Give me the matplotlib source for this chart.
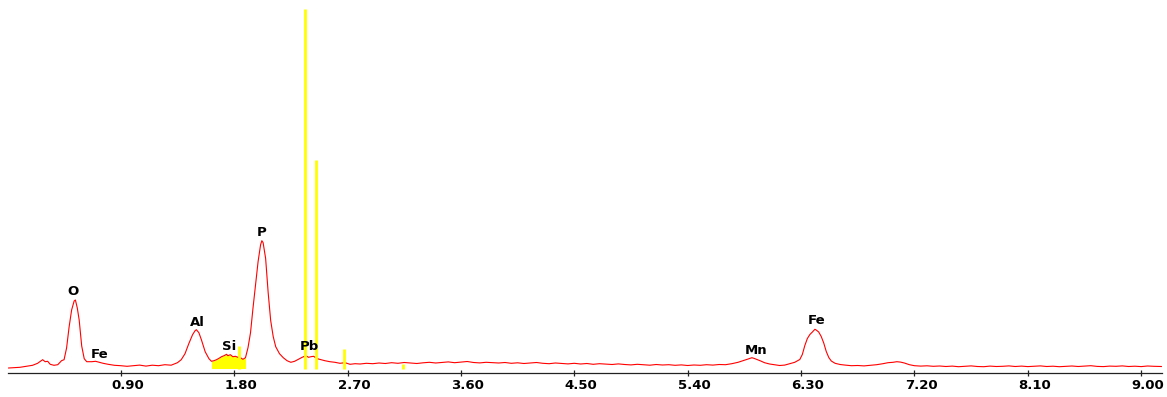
import matplotlib
matplotlib.use("Agg")
import matplotlib.pyplot as plt
import matplotlib.transforms as mtrans
import numpy as np

# EDS spectrum (energy in keV, counts in arbitrary units)
energy_kev = [0.01, 0.05, 0.10, 0.15, 0.20, 0.24, 0.27, 0.28, 0.30, 0.32, 0.34, 0.37, 0.40, 0.43,
              0.45, 0.47, 0.49, 0.51, 0.53, 0.54, 0.555, 0.57, 0.59, 0.61, 0.63, 0.67, 0.70, 0.73,
              0.76, 0.80, 0.85, 0.90, 0.95, 1.00, 1.05, 1.10, 1.15, 1.20, 1.25, 1.30, 1.35, 1.38,
              1.41, 1.44, 1.47, 1.49, 1.50, 1.52, 1.54, 1.57, 1.60, 1.62, 1.64, 1.66, 1.68, 1.70,
              1.72, 1.74, 1.75, 1.77, 1.79, 1.81, 1.83, 1.85, 1.87, 1.89, 1.91, 1.93, 1.95, 1.97,
              1.99, 2.01, 2.02, 2.03, 2.05, 2.07, 2.09, 2.11, 2.13, 2.16, 2.19, 2.22, 2.25, 2.28,
              2.31, 2.34, 2.37, 2.39, 2.41, 2.43, 2.46, 2.49, 2.52, 2.56, 2.60, 2.64, 2.68, 2.72,
              2.76, 2.80, 2.85, 2.90, 2.95, 3.00, 3.05, 3.10, 3.15, 3.20, 3.25, 3.30, 3.35, 3.40,
              3.45, 3.50, 3.55, 3.60, 3.65, 3.70, 3.75, 3.80, 3.85, 3.90, 3.95, 4.00, 4.05, 4.10,
              4.15, 4.20, 4.25, 4.30, 4.35, 4.40, 4.45, 4.50, 4.55, 4.60, 4.65, 4.70, 4.75, 4.80,
              4.85, 4.90, 4.95, 5.00, 5.05, 5.10, 5.15, 5.20, 5.25, 5.30, 5.35, 5.40, 5.45, 5.50,
              5.55, 5.60, 5.65, 5.70, 5.75, 5.80, 5.85, 5.88, 5.91, 5.93, 5.95, 5.98, 6.01, 6.05,
              6.09, 6.13, 6.17, 6.21, 6.25, 6.29, 6.31, 6.33, 6.35, 6.37, 6.39, 6.41, 6.42, 6.44,
              6.46, 6.48, 6.50, 6.52, 6.54, 6.57, 6.61, 6.65, 6.70, 6.75, 6.80, 6.85, 6.90, 6.95,
              6.99, 7.03, 7.06, 7.09, 7.12, 7.16, 7.20, 7.25, 7.30, 7.35, 7.40, 7.45, 7.50, 7.55,
              7.60, 7.65, 7.70, 7.75, 7.80, 7.85, 7.90, 7.95, 8.00, 8.05, 8.10, 8.15, 8.20, 8.25,
              8.30, 8.35, 8.40, 8.45, 8.50, 8.55, 8.60, 8.65, 8.70, 8.75, 8.80, 8.85, 8.90, 8.95,
              9.00, 9.05, 9.10, 9.16]
counts = [5, 8, 12, 22, 32, 52, 78, 88, 68, 72, 42, 32, 38, 78,
          88, 205, 415, 585, 675, 685, 605, 485, 225, 98, 68, 68, 72, 62,
          52, 42, 32, 28, 22, 28, 34, 24, 33, 28, 38, 33, 58, 88,
          148, 248, 338, 378, 388, 358, 288, 168, 98, 72, 78, 88, 102, 118,
          128, 142, 128, 138, 118, 122, 112, 108, 92, 108, 208, 358, 608, 838,
          1068, 1238, 1278, 1258, 1100, 760, 480, 320, 218, 148, 108, 78, 62, 72,
          92, 112, 128, 112, 118, 122, 98, 88, 78, 68, 62, 52, 58, 42,
          48, 45, 52, 48, 55, 50, 58, 52, 60, 55, 50, 57, 62, 55,
          60, 66, 58, 64, 70, 60, 56, 62, 58, 55, 60, 52, 57, 50,
          55, 60, 52, 48, 55, 50, 46, 52, 45, 50, 42, 48, 44, 40,
          46, 40, 36, 42, 38, 33, 40, 35, 38, 32, 36, 30, 35, 32,
          38, 34, 40, 38, 48, 62, 82, 95, 108, 100, 90, 75, 58, 45,
          38, 30, 34, 48, 62, 90, 140, 230, 300, 340, 365, 392, 385, 365,
          320, 255, 170, 110, 75, 52, 40, 34, 28, 30, 26, 32, 38, 48,
          58, 62, 68, 64, 55, 38, 28, 24, 27, 22, 25, 20, 24, 18,
          22, 26, 20, 18, 24, 20, 22, 26, 20, 24, 19, 22, 26, 20,
          23, 18, 22, 25, 20, 24, 28, 21, 19, 24, 22, 26, 20, 23,
          19, 25, 22, 20]

# yellow marker lines (energy, height)
marker_kev = [1.84, 2.36, 2.45, 2.67, 3.14]
marker_top = [225, 3595, 2085, 195, 42]
si_fill_range = (1.61, 1.89)

# peak labels
peak_names = ["O", "Fe", "Al", "Si", "P", "Pb", "Mn", "Fe"]
peak_x = [0.52, 0.73, 1.51, 1.76, 2.02, 2.40, 5.94, 6.42]
peak_y = [770, 135, 455, 225, 1355, 225, 180, 475]

ticks = [0.90, 1.80, 2.70, 3.60, 4.50, 5.40, 6.30, 7.20, 8.10, 9.00]

fig = plt.figure(figsize=(11.67, 3.97), dpi=100)
ax = fig.add_axes([8 / 1167, 24.5 / 397, 1154 / 1167, 372.5 / 397])

e = np.array(energy_kev)
c = np.array(counts)

# Si region highlighted
mask = (e >= si_fill_range[0]) & (e <= si_fill_range[1])
ax.fill_between(e, 0, c, where=mask, color="#ffff00", lw=0, zorder=1)

ax.plot(e, c, color="#ff0000", lw=0.8, zorder=2)
ax.vlines(marker_kev, 0, marker_top, colors="#ffff00", lw=2.0, zorder=3)

for name, x, y in zip(peak_names, peak_x, peak_y):
    ax.text(x, y, name, ha="center", va="center", fontsize=9.5, fontweight="bold",
            color="black", zorder=4)

ax.set_xlim(0.005, 9.165)
ax.set_ylim(-40, 3685)

for s in ["top", "left", "right"]:
    ax.spines[s].set_visible(False)
ax.spines["bottom"].set_color("#222222")
ax.spines["bottom"].set_linewidth(0.9)
ax.set_yticks([])
ax.set_xticks(ticks)
ax.set_xticklabels(["%.2f" % t for t in ticks])
ax.tick_params(axis="x", direction="inout", length=4, width=0.9, color="#222222",
               pad=2.5, labelsize=9.5)
offset = mtrans.ScaledTranslation(7 / 100, 0, fig.dpi_scale_trans)
for lab in ax.get_xticklabels():
    lab.set_fontweight("bold")
    lab.set_transform(lab.get_transform() + offset)

fig.savefig("out.png", dpi=100, facecolor="white")
